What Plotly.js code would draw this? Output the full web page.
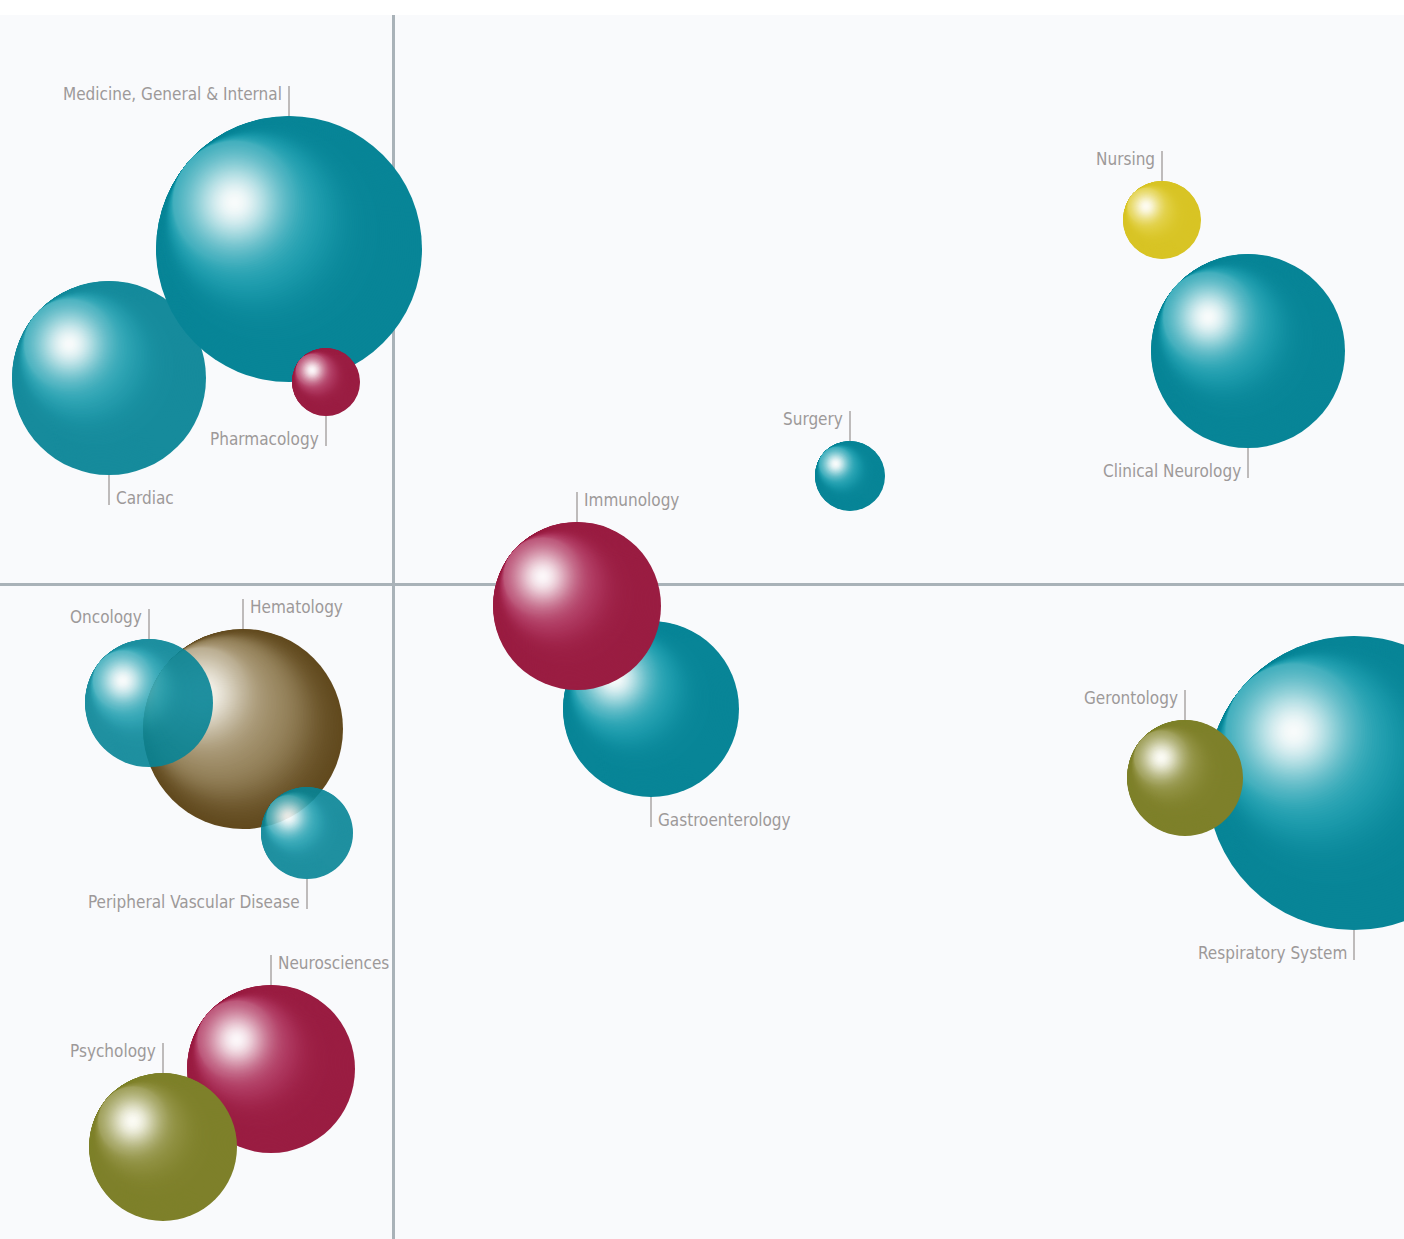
<!DOCTYPE html>
<html><head><meta charset="utf-8">
<script src="https://cdn.plot.ly/plotly-3.0.1.min.js"></script>
<style>html,body{margin:0;padding:0;background:#fff;}#chart{width:1404px;height:1239px;}</style>
</head><body><div id="chart"></div>
<script>
// ---- data (drawing order = array order) ----
const fields = ["Medicine, General & Internal","Cardiac","Pharmacology","Nursing","Clinical Neurology","Surgery","Gastroenterology","Immunology","Hematology","Oncology","Peripheral Vascular Disease","Respiratory System","Gerontology","Neurosciences","Psychology"];
const xValues = [-10.4,-28.4,-6.7,76.9,85.5,45.7,25.8,18.4,-15.0,-24.4,-8.6,96.1,79.2,-12.2,-23.0];
const yValues = [33.5,20.6,20.2,36.4,23.3,10.8,-12.5,-2.2,-14.5,-11.9,-24.9,-19.9,-19.4,-48.5,-56.3];
const bubbleSize = [266,194,68,78,194,70,176,168,200,128,92,294,116,168,148];
const colourGroup = ["teal","teal","crimson","yellow","teal","teal","teal","crimson","brown","teal","teal","teal","olive","crimson","olive"];
const labelEdge = ["top","bottom","bottom","top","bottom","top","bottom","top","top","top","bottom","bottom","top","top","top"];
const labelSide = ["left","right","left","left","left","left","right","right","right","left","left","left","left","right","left"];
const bubbleOpacity = [1,0.94,1,1,1,1,1,1,1,0.9,0.9,1,1,1,1];

// ---- style ----
const palette = {
  teal:   {dark:[8,133,151],  mid:[30,160,177], hi:[248,251,251], k:1.0, s:0.35},
  crimson:{dark:[154,29,66],  mid:[176,56,97],  hi:[252,247,249], k:1.0, s:0.35},
  yellow: {dark:[216,196,37], mid:[224,206,60], hi:[253,251,240], k:1.0, s:0.35},
  olive:  {dark:[126,128,42], mid:[142,143,62], hi:[251,251,244], k:1.0, s:0.35},
  brown:  {dark:[94,70,26],   mid:[158,140,102], hi:[247,245,238], k:1.45, s:0.3}
};
const xRange = [-39.3, 101.1], yRange = [-65.5, 56.9];
const W = 1404, H = 1239, TOP = 15;
const ppx = W / (xRange[1]-xRange[0]);
const ppy = (H-TOP) / (yRange[1]-yRange[0]);
const hiOff = [-0.41, 0.35]; // highlight offset as fraction of radius (x right, y up)
const M = Math.hypot(hiOff[0], hiOff[1]);
const LAYERS = 110;

function mix(a,b,u){return a.map((v,i)=>v+(b[i]-v)*u);}
function rgb(c){return 'rgb('+c.map(v=>Math.round(v)).join(',')+')';}
// colour as a smooth function of distance from the highlight (in sphere radii)
function colourAt(p,u){
  u = u / p.k;
  const L = Math.exp(-Math.pow(u/p.s,2));
  const D = 1/(1+Math.exp(-(u-0.78)/0.1));
  return mix(mix(p.mid,p.dark,D),p.hi,L);
}

const traces = [];
fields.forEach((name,i)=>{
  const p = palette[colourGroup[i]];
  const r = bubbleSize[i]/2;
  const hx = hiOff[0]*r/ppx, hy = hiOff[1]*r/ppy;
  const xs=[],ys=[],ss=[],cs=[];
  for(let k=0;k<LAYERS;k++){
    const t = k/(LAYERS-1)*0.985;
    const g = Math.min(1,t/M);
    const u = t<=M ? 1+M-2*t : 1-t;   // far-side distance from highlight
    xs.push(xValues[i]+g*hx); ys.push(yValues[i]+g*hy);
    ss.push(bubbleSize[i]*(1-t)); cs.push(rgb(colourAt(p,u)));
  }
  traces.push({type:'scatter',mode:'markers',x:xs,y:ys,name:name,opacity:bubbleOpacity[i],
    hoverinfo:'skip',showlegend:false,
    marker:{size:ss,color:cs,line:{width:0},opacity:1}});
});

// leader lines + labels
const LINE = 30, TXT = 22.5;
const lx=[],ly=[];
const annotations=[];
fields.forEach((name,i)=>{
  const r = bubbleSize[i]/2;
  const dir = labelEdge[i]==='top'?1:-1;
  const edge = yValues[i]+dir*r/ppy;
  lx.push(xValues[i],xValues[i],null);
  ly.push(edge,edge+dir*LINE/ppy,null);
  annotations.push({x:xValues[i],y:edge+dir*TXT/ppy,xref:'x',yref:'y',text:name,showarrow:false,
    xanchor:labelSide[i]==='left'?'right':'left',yanchor:'middle',xshift:labelSide[i]==='left'?-5:5,
    font:{family:'"Liberation Sans Narrow","DejaVu Sans Condensed",sans-serif',size:17,color:'#9d9999'}});
});
traces.push({type:'scatter',mode:'lines',x:lx,y:ly,hoverinfo:'skip',showlegend:false,
  line:{color:'#aaa6a6',width:1.5}});

const axis = {showgrid:false,showticklabels:false,ticks:'',showline:false,zeroline:true,
  zerolinecolor:'#a9b2b8',zerolinewidth:3,fixedrange:true};
const layout = {
  width:W,height:H,margin:{l:0,r:0,t:TOP,b:0,pad:0},
  paper_bgcolor:'#ffffff',plot_bgcolor:'#f9fafc',
  xaxis:Object.assign({range:xRange},axis),
  yaxis:Object.assign({range:yRange},axis),
  annotations:annotations,showlegend:false,hovermode:false
};
Plotly.newPlot('chart',traces,layout,{displayModeBar:false,staticPlot:true});
</script></body></html>
